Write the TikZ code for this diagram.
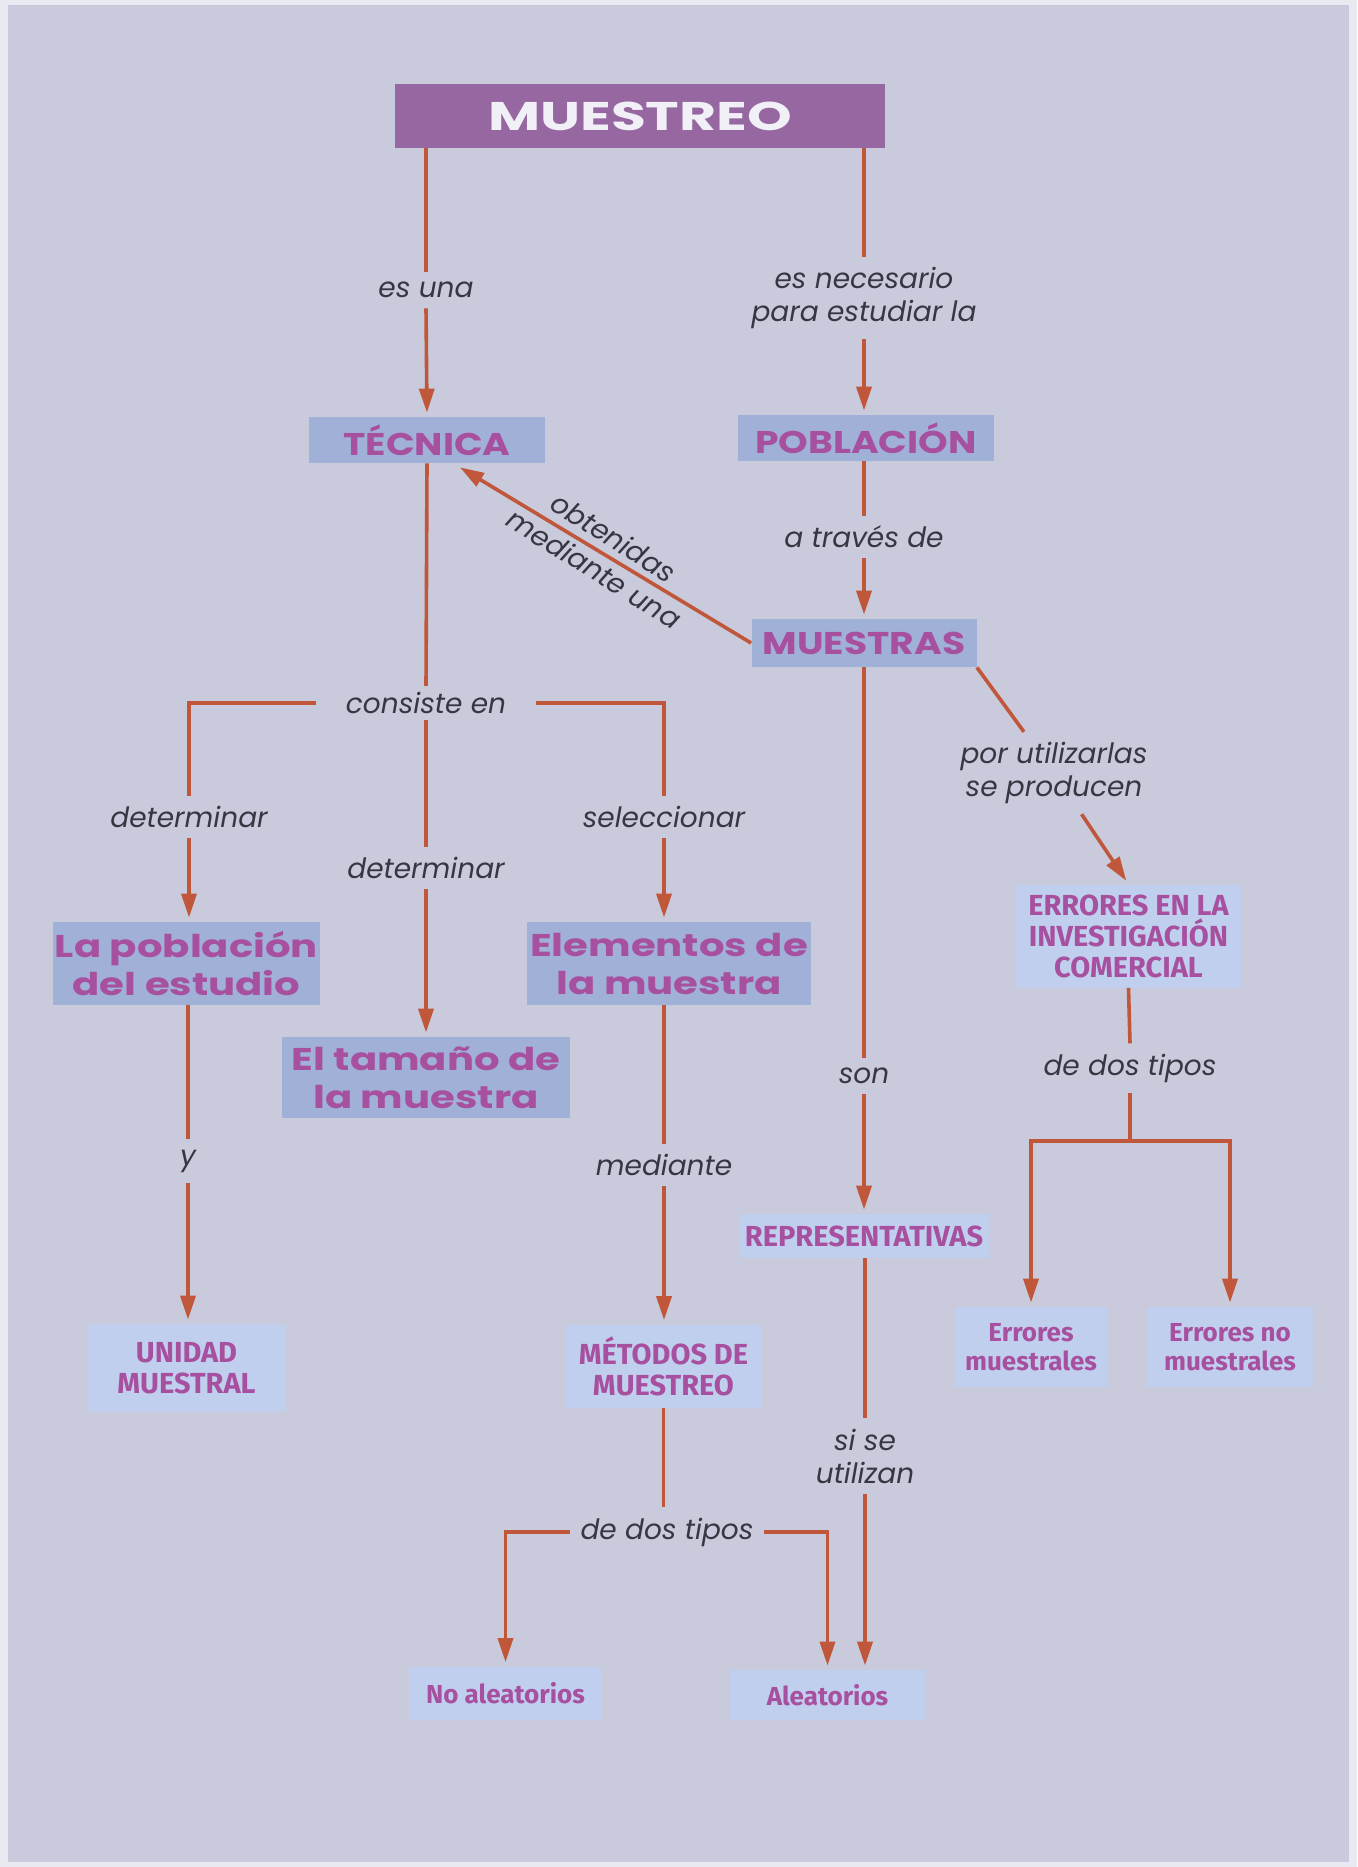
\documentclass[tikz,border=0pt]{standalone}
\usepackage{fontspec}
\usetikzlibrary{arrows.meta,calc}
\newfontfamily\fTitle[FakeStretch=1.42]{Poppins}
\newfontfamily\fWide[FakeStretch=1.28]{Poppins}
\newfontfamily\fMed[FakeStretch=1.2]{Poppins}
\newfontfamily\fCond{Fira Sans}
\newfontfamily\fLab{Poppins}
\definecolor{bgc}{RGB}{201,202,219}
\definecolor{edgec}{RGB}{232,234,242}
\definecolor{darkbox}{RGB}{160,176,215}
\definecolor{lightbox}{RGB}{192,207,237}
\definecolor{mag}{RGB}{168,80,160}
\definecolor{titlebox}{RGB}{151,103,161}
\definecolor{titletext}{RGB}{240,240,246}
\definecolor{arrc}{RGB}{192,86,58}
\definecolor{labc}{RGB}{55,55,68}
\begin{document}
\begin{tikzpicture}[x=0.5pt,y=-0.5pt,
  every node/.style={inner sep=0pt},
  dbox/.style={fill=darkbox, text=mag, align=center},
  lbox/.style={fill=lightbox, text=mag, align=center, font=\fCond\bfseries\fontsize{14.5}{15.5}\selectfont},
  sbox/.style={lbox, font=\fCond\bfseries\fontsize{13}{14.5}\selectfont},
  wide/.style={font=\fWide\bfseries\fontsize{15.7}{19}\selectfont},
  med/.style={font=\fMed\bfseries\fontsize{15.7}{18}\selectfont},
  lab/.style={text=labc, font=\fLab\itshape\fontsize{14}{16.5}\selectfont, align=center, inner xsep=4pt, inner ysep=5pt},
  ln/.style={draw=arrc, line width=1.8pt},
  arr/.style={ln, -{Triangle[length=12pt,width=7.5pt]}, shorten >=2pt},
]
\fill[edgec] (0,0) rectangle (1357,1867);
\fill[bgc] (8,5) rectangle (1349,1862);
\useasboundingbox (0,0) rectangle (1357,1867);

% boxes
\node[fill=titlebox, text=titletext, minimum width=245pt, minimum height=32pt,
      font=\fTitle\bfseries\fontsize{20}{24}\selectfont] (muestreo) at (640,116) {MUESTREO};
\node[dbox, med, minimum width=118pt, minimum height=23pt] (tecnica) at (427,440) {TÉCNICA};
\node[dbox, med, minimum width=128pt, minimum height=23pt] (poblacion) at (866,438) {POBLACIÓN};
\node[dbox, med, minimum width=112.5pt, minimum height=24pt] (muestras) at (864,643) {MUESTRAS};
\node[dbox, wide, minimum width=133.5pt, minimum height=41.5pt] (pobl) at (186.5,963.5) {La población\\del estudio};
\node[dbox, wide, minimum width=142pt, minimum height=41.5pt] (elem) at (669,963.5) {Elementos de\\la muestra};
\node[dbox, wide, minimum width=144pt, minimum height=40.5pt] (tamano) at (426,1077.5) {El tamaño de\\la muestra};
\node[lbox, minimum width=99.5pt, minimum height=44pt] (unidad) at (186.5,1368) {UNIDAD\\MUESTRAL};
\node[lbox, minimum width=98.5pt, minimum height=41.5pt] (metodos) at (663.5,1366) {MÉTODOS DE\\MUESTREO};
\node[lbox, minimum width=125pt, minimum height=22pt] (repre) at (864,1236) {REPRESENTATIVAS};
\node[lbox, minimum width=112.5pt, minimum height=51.5pt] (errores) at (1128.5,936) {ERRORES EN LA\\INVESTIGACIÓN\\COMERCIAL};
\node[sbox, minimum width=76pt, minimum height=40pt] (emues) at (1031,1347) {Errores\\muestrales};
\node[sbox, minimum width=83pt, minimum height=40pt] (enomues) at (1230,1347) {Errores no\\muestrales};
\node[sbox, minimum width=96.5pt, minimum height=26.5pt] (noal) at (505.5,1693) {No aleatorios};
\node[sbox, minimum width=97.5pt, minimum height=25pt] (aleat) at (827.5,1695) {Aleatorios};

% labels
\node[lab] (esuna) at (426,290) {es una};
\node[lab] (esnec) at (864,298) {es necesario\\para estudiar la};
\node[lab] (atraves) at (864,537) {a través de};
\node[lab, rotate=-32, inner sep=0pt, font=\fLab\itshape\fontsize{14}{18.5}\selectfont] (obt) at (604,553) {obtenidas\\mediante una};
\node[lab, inner xsep=15pt, inner ysep=3pt] (cons) at (426,703) {consiste en};
\node[lab] (detL) at (189,817) {determinar};
\node[lab] (detM) at (426,868) {determinar};
\node[lab] (selec) at (664,817) {seleccionar};
\node[lab] (porutil) at (1054,773) {por utilizarlas\\se producen};
\node[lab] (son) at (864,1076) {son};
\node[lab] (dos2) at (1130,1068) {de dos tipos};
\node[lab] (yy) at (188,1161) {y};
\node[lab] (mediante) at (664,1165) {mediante};
\node[lab] (sise) at (865,1456) {si se\\utilizan};
\node[lab, inner xsep=5pt] (dos1) at (667,1532) {de dos tipos};

% connectors
\draw[ln] (esuna |- muestreo.south) -- (esuna.north);
\draw[arr] (esuna.south) -- (tecnica.north);
\draw[ln] (esnec |- muestreo.south) -- (esnec.north);
\draw[arr] (esnec.south) -- (esnec.south |- poblacion.north);
\draw[ln] (poblacion.south -| atraves) -- (atraves.north);
\draw[arr] (atraves.south) -- (muestras.north);
\draw[arr, shorten >=0pt] (muestras.west) -- ($(tecnica.south)+(33,4)$);
\draw[ln] (tecnica.south) -- (cons.north);
\draw[ln] (cons.west) -| (detL.north);
\draw[arr] (detL.south) -- (detL.south |- pobl.north);
\draw[ln] (cons.south) -- (detM.north);
\draw[arr] (detM.south) -- (tamano.north);
\draw[ln] (cons.east) -| (selec.north);
\draw[arr] (selec.south) -- (selec.south |- elem.north);
\draw[ln] (pobl.south -| yy) -- (yy.north);
\draw[arr] (yy.south) -- (yy.south |- unidad.north);
\draw[ln] (elem.south -| mediante) -- (mediante.north);
\draw[arr] (mediante.south) -- (mediante.south |- metodos.north);
\draw[ln] (muestras.south) -- (son.north);
\draw[arr] (son.south) -- (repre.north);
\draw[ln] (repre.south -| sise) -- (sise.north);
\draw[arr] (sise.south) -- (sise.south |- aleat.north);
\draw[ln] (metodos.south) -- (metodos.south |- dos1.north);
\draw[arr] (dos1.west) -| (noal.north);
\draw[arr] (dos1.east) -| (aleat.north);
\draw[ln] (muestras.south east) -- (porutil);
\draw[arr] (porutil) -- (errores.north);
\draw[ln] (errores.south) -- (dos2.north);
\coordinate (ebr) at (1130,1141);
\draw[arr] (dos2.south) -- (dos2.south |- ebr) -| (emues.north);
\draw[arr] (dos2.south |- ebr) -| (enomues.north);
\end{tikzpicture}
\end{document}
